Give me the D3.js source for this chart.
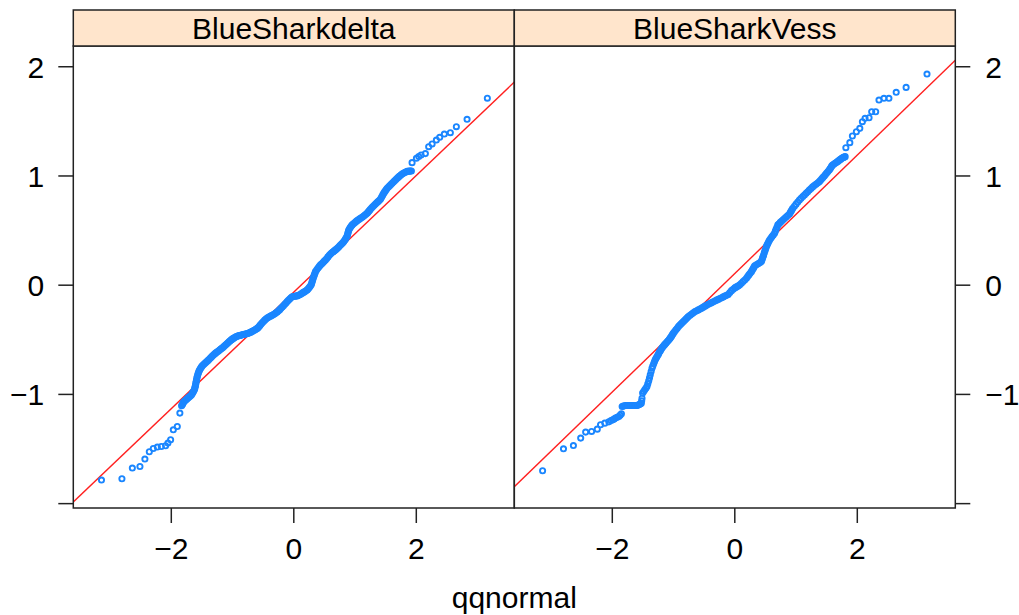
<!doctype html>
<html>
<head>
	<meta charset="utf-8">
	<title>qqmath</title>
	<style>
		body {
			margin: 0;
			background: #fff;
		}

		text {
			font-family: "Liberation Sans", Arial, sans-serif;
			fill: #000;
		}

		.frame {
			fill: none;
			stroke: #222;
			stroke-width: 1.5;
		}

		.strip {
			fill: #ffe5cc;
			stroke: #222;
			stroke-width: 1.5;
		}

		.tick {
			stroke: #222;
			stroke-width: 1.5;
		}

		.qq-point {
			fill: none;
			stroke: #1a86ff;
			stroke-width: 1.9;
		}

		.qq-line {
			stroke: #ff2020;
			stroke-width: 1.4;
		}
	</style>
</head>
<body>

	<svg width="1019" height="615"></svg>

	<script src="https://d3js.org/d3.v7.min.js"></script>
	<script>

		// panel names
		const panelNames = [ "BlueSharkdelta", "BlueSharkVess" ];

		// theoretical quantiles / sample values (tails and band)
		const deltaTheo = [ -3.14, -2.806, -2.636, -2.512, -2.431, -2.359, -2.294, -2.228, -2.163, -2.093, -2.055, -2.011, -1.967, -1.902, -1.86,
			-1.832, -1.812, -1.794, -1.76, -1.729, -1.7, -1.669, -1.645, -1.62, -1.608, -1.599, -1.588, -1.576, -1.56, -1.543, -1.52, -1.494, -1.46,
			-1.424, -1.385, -1.347, -1.312, -1.277, -1.242, -1.207, -1.175, -1.142, -1.106, -1.07, -1.038, -1.005, -0.97, -0.935, -0.896, -0.858,
			-0.823, -0.788, -0.753, -0.718, -0.685, -0.653, -0.62, -0.587, -0.552, -0.516, -0.475, -0.434, -0.393, -0.352, -0.311, -0.271, -0.23,
			-0.189, -0.148, -0.108, -0.067, -0.026, 0.015, 0.055, 0.096, 0.137, 0.178, 0.219, 0.252, 0.284, 0.3, 0.316, 0.335, 0.354, 0.395, 0.436,
			0.477, 0.517, 0.558, 0.599, 0.64, 0.68, 0.715, 0.75, 0.783, 0.816, 0.845, 0.871, 0.884, 0.897, 0.925, 0.953, 0.994, 1.034, 1.075, 1.116,
			1.157, 1.197, 1.224, 1.251, 1.292, 1.333, 1.374, 1.414, 1.441, 1.468, 1.496, 1.524, 1.565, 1.605, 1.646, 1.687, 1.728, 1.768, 1.81, 1.85,
			1.885, 1.92, 1.931, 2.002, 2.04, 2.078, 2.148, 2.202, 2.258, 2.328, 2.382, 2.458, 2.556, 2.654, 2.829, 3.16,
			-1.822, -1.803, -1.777, -1.745, -1.715, -1.685, -1.657, -1.632, -1.614, -1.603, -1.593, -1.582, -1.568, -1.551, -1.531, -1.507, -1.477,
			-1.442, -1.404, -1.366, -1.33, -1.295, -1.26, -1.225, -1.191, -1.158, -1.124, -1.088, -1.054, -1.022, -0.988, -0.953, -0.916, -0.877,
			-0.84, -0.806, -0.771, -0.736, -0.702, -0.669, -0.637, -0.604, -0.57, -0.534, -0.496, -0.455, -0.414, -0.373, -0.332, -0.291, -0.25,
			-0.21, -0.169, -0.128, -0.088, -0.047, -0.006, 0.035, 0.076, 0.117, 0.158, 0.199, 0.236, 0.268, 0.292, 0.308, 0.326, 0.345, 0.375, 0.416,
			0.457, 0.497, 0.538, 0.579, 0.62, 0.66, 0.698, 0.733, 0.767, 0.8, 0.831, 0.858, 0.878, 0.891, 0.911, 0.939, 0.974, 1.014, 1.055, 1.096,
			1.137, 1.177, 1.211, 1.238, 1.272, 1.313, 1.354, 1.394, 1.428, 1.455, 1.482, 1.51, 1.545, 1.585, 1.626, 1.667, 1.708, 1.748, 1.789, 1.83,
			1.868, 1.903 ];
		const deltaSample = [ -1.784, -1.772, -1.674, -1.66, -1.592, -1.525, -1.495, -1.482, -1.477, -1.47, -1.446, -1.415, -1.324, -1.294, -1.171,
			-1.104, -1.085, -1.065, -1.05, -1.034, -1.02, -1.004, -0.98, -0.952, -0.925, -0.897, -0.866, -0.836, -0.806, -0.781, -0.758, -0.738, -0.72,
			-0.702, -0.68, -0.659, -0.64, -0.622, -0.607, -0.592, -0.578, -0.562, -0.543, -0.525, -0.508, -0.494, -0.481, -0.47, -0.462, -0.457,
			-0.452, -0.448, -0.442, -0.434, -0.425, -0.415, -0.404, -0.391, -0.368, -0.344, -0.32, -0.3, -0.287, -0.275, -0.261, -0.245, -0.224,
			-0.2, -0.175, -0.15, -0.126, -0.106, -0.101, -0.098, -0.087, -0.073, -0.059, -0.043, -0.022, 0.003, 0.033, 0.064, 0.094, 0.124, 0.157, 0.186,
			0.208, 0.231, 0.259, 0.286, 0.305, 0.323, 0.341, 0.36, 0.379, 0.399, 0.424, 0.451, 0.478, 0.506, 0.53, 0.552, 0.572, 0.591, 0.607, 0.622,
			0.64, 0.659, 0.677, 0.695, 0.72, 0.744, 0.765, 0.787, 0.815, 0.842, 0.865, 0.887, 0.91, 0.933, 0.956, 0.979, 0.999, 1.018, 1.032, 1.042,
			1.044, 1.046, 1.122, 1.162, 1.178, 1.192, 1.205, 1.268, 1.293, 1.329, 1.354, 1.384, 1.396, 1.451, 1.519, 1.712,
			-1.095, -1.075, -1.058, -1.042, -1.027, -1.012, -0.992, -0.966, -0.938, -0.911, -0.881, -0.851, -0.821, -0.793, -0.769, -0.748, -0.729,
			-0.711, -0.691, -0.669, -0.649, -0.631, -0.614, -0.6, -0.585, -0.57, -0.552, -0.534, -0.516, -0.501, -0.487, -0.475, -0.466, -0.46,
			-0.454, -0.45, -0.445, -0.438, -0.43, -0.42, -0.41, -0.398, -0.38, -0.356, -0.332, -0.31, -0.294, -0.281, -0.268, -0.253, -0.235,
			-0.212, -0.188, -0.163, -0.138, -0.116, -0.103, -0.1, -0.093, -0.08, -0.066, -0.051, -0.033, -0.01, 0.018, 0.048, 0.079, 0.109, 0.141, 0.172,
			0.197, 0.22, 0.245, 0.273, 0.296, 0.314, 0.332, 0.35, 0.37, 0.389, 0.411, 0.437, 0.464, 0.492, 0.518, 0.541, 0.562, 0.582, 0.599, 0.615,
			0.631, 0.65, 0.668, 0.686, 0.708, 0.732, 0.755, 0.776, 0.801, 0.829, 0.854, 0.876, 0.899, 0.922, 0.945, 0.968, 0.989, 1.009, 1.025, 1.037,
			1.043, 1.045 ];

		const vessTheo = [ -3.138, -2.797, -2.635, -2.516, -2.435, -2.338, -2.245, -2.192, -2.122, -2.057, -2.02, -1.992, -1.97, -1.948, -1.92, -1.894,
			-1.872, -1.851, -1.839, -1.8, -1.758, -1.718, -1.677, -1.637, -1.596, -1.56, -1.526, -1.515, -1.505, -1.47, -1.434, -1.405, -1.38, -1.366,
			-1.352, -1.325, -1.299, -1.272, -1.245, -1.218, -1.19, -1.158, -1.125, -1.09, -1.055, -1.028, -1.002, -0.961, -0.92, -0.88, -0.839, -0.798,
			-0.758, -0.704, -0.649, -0.595, -0.541, -0.487, -0.433, -0.379, -0.325, -0.27, -0.216, -0.162, -0.108, -0.054, 0, 0.04, 0.081, 0.135, 0.19,
			0.23, 0.271, 0.298, 0.325, 0.38, 0.433, 0.452, 0.471, 0.493, 0.515, 0.541, 0.568, 0.608, 0.649, 0.676, 0.703, 0.743, 0.784, 0.838, 0.893,
			0.92, 0.946, 1.0, 1.055, 1.11, 1.164, 1.217, 1.271, 1.325, 1.38, 1.42, 1.461, 1.5, 1.542, 1.569, 1.596, 1.636, 1.677, 1.712, 1.748, 1.775,
			1.802, 1.813, 1.878, 1.92, 1.985, 2.041, 2.083, 2.127, 2.192, 2.235, 2.3, 2.354, 2.435, 2.516, 2.635, 2.797, 3.138,
			-1.82, -1.779, -1.738, -1.697, -1.657, -1.616, -1.578, -1.543, -1.52, -1.488, -1.452, -1.42, -1.392, -1.339, -1.312, -1.286, -1.258, -1.232,
			-1.204, -1.174, -1.142, -1.108, -1.072, -1.042, -1.015, -0.982, -0.94, -0.9, -0.86, -0.818, -0.778, -0.731, -0.677, -0.622, -0.568, -0.514,
			-0.46, -0.406, -0.352, -0.298, -0.243, -0.189, -0.135, -0.081, -0.027, 0.02, 0.06, 0.108, 0.162, 0.21, 0.25, 0.284, 0.311, 0.352, 0.406,
			0.442, 0.462, 0.482, 0.504, 0.528, 0.554, 0.588, 0.628, 0.662, 0.69, 0.723, 0.763, 0.811, 0.865, 0.906, 0.933, 0.973, 1.028, 1.082, 1.137,
			1.19, 1.244, 1.298, 1.352, 1.4, 1.44, 1.48, 1.521, 1.555, 1.582, 1.616, 1.656, 1.694, 1.73, 1.761, 1.788 ];
		const vessSample = [ -1.699, -1.498, -1.468, -1.4, -1.345, -1.339, -1.318, -1.278, -1.263, -1.251, -1.24, -1.232, -1.225, -1.217, -1.21, -1.202,
			-1.19, -1.177, -1.111, -1.104, -1.101, -1.101, -1.101, -1.101, -1.101, -1.093, -1.08, -1.035, -0.988, -0.958, -0.928, -0.875, -0.821, -0.79,
			-0.76, -0.72, -0.683, -0.655, -0.629, -0.602, -0.576, -0.553, -0.531, -0.508, -0.485, -0.462, -0.439, -0.409, -0.379, -0.356, -0.333, -0.31,
			-0.287, -0.264, -0.242, -0.226, -0.21, -0.192, -0.175, -0.16, -0.145, -0.13, -0.115, -0.1, -0.085, -0.05, -0.025, -0.012, 0.003, 0.033, 0.064,
			0.094, 0.124, 0.15, 0.177, 0.196, 0.216, 0.246, 0.277, 0.315, 0.353, 0.384, 0.414, 0.445, 0.476, 0.514, 0.552, 0.575, 0.597, 0.625, 0.652,
			0.678, 0.704, 0.742, 0.78, 0.811, 0.842, 0.871, 0.9, 0.924, 0.948, 0.974, 1.0, 1.027, 1.055, 1.078, 1.101, 1.116, 1.131, 1.147, 1.162, 1.17,
			1.177, 1.259, 1.305, 1.366, 1.405, 1.436, 1.497, 1.528, 1.533, 1.588, 1.588, 1.695, 1.711, 1.711, 1.766, 1.811, 1.933,
			-1.107, -1.102, -1.101, -1.101, -1.101, -1.101, -1.098, -1.087, -1.058, -0.973, -0.943, -0.902, -0.848, -0.74, -0.701, -0.669, -0.642, -0.615,
			-0.589, -0.564, -0.542, -0.52, -0.497, -0.474, -0.45, -0.424, -0.394, -0.367, -0.345, -0.321, -0.298, -0.275, -0.253, -0.234, -0.218, -0.201,
			-0.184, -0.168, -0.152, -0.137, -0.122, -0.107, -0.093, -0.068, -0.037, -0.018, -0.005, 0.018, 0.048, 0.079, 0.109, 0.137, 0.163, 0.187, 0.206,
			0.231, 0.262, 0.296, 0.334, 0.369, 0.399, 0.43, 0.46, 0.495, 0.533, 0.563, 0.586, 0.611, 0.638, 0.665, 0.691, 0.723, 0.761, 0.795, 0.826,
			0.856, 0.885, 0.912, 0.936, 0.961, 0.987, 1.013, 1.041, 1.066, 1.09, 1.108, 1.123, 1.139, 1.154, 1.166, 1.173 ];

		// reference lines (qqmathline)
		const lineIntercept = [ -0.063, 0.107 ];
		const lineSlope = [ 0.534, 0.5423 ];

		const xTicks = [ -2, 0, 2 ];
		const yTicks = [ -2, -1, 0, 1, 2 ];
		const yTickLabels = [ "", "\u22121", "0", "1", "2" ];
		const xTickLabels = [ "\u22122", "0", "2" ];

		const svg = d3.select( "svg" );

		const left = 73.3,
			panelW = 441,
			stripTop = 10,
			stripH = 36,
			panelTop = stripTop + stripH,
			panelBottom = 508;

		const x = d3.scaleLinear()
				.domain( [ -3.6, 3.6 ] )
				.range( [ 0, panelW ] );

		const y = d3.scaleLinear()
				.domain( [ -2.04, 2.19 ] )
				.range( [ panelBottom, panelTop ] );

		const panels = [
			{ name: panelNames[0], theo: deltaTheo, sample: deltaSample, a: lineIntercept[0], b: lineSlope[0] },
			{ name: panelNames[1], theo: vessTheo, sample: vessSample, a: lineIntercept[1], b: lineSlope[1] }
		];

		const defs = svg.append( "defs" );

		panels.forEach( ( p, i ) => {

			const x0 = left + i * panelW;
			const g = svg.append( "g" )
						.attr( "transform", "translate(" + x0 + ",0)" );

			defs.append( "clipPath" )
				.attr( "id", "clip" + i )
				.append( "rect" )
					.attr( "x", 0 )
					.attr( "y", panelTop )
					.attr( "width", panelW )
					.attr( "height", panelBottom - panelTop );

			const inner = g.append( "g" )
							.attr( "clip-path", "url(#clip" + i + ")" );

			// reference line
			const dom = x.domain();
			inner.append( "line" )
				.attr( "class", "qq-line" )
				.attr( "x1", x( dom[0] ) )
				.attr( "y1", y( p.a + p.b * dom[0] ) )
				.attr( "x2", x( dom[1] ) )
				.attr( "y2", y( p.a + p.b * dom[1] ) );

			// points
			inner.selectAll( ".qq-point" )
				.data( d3.zip( p.theo, p.sample ) )
				.enter().append( "circle" )
					.attr( "class", "qq-point" )
					.attr( "r", 2.6 )
					.attr( "cx", d => x( d[0] ) )
					.attr( "cy", d => y( d[1] ) );

			// panel frame
			g.append( "rect" )
				.attr( "class", "frame" )
				.attr( "x", 0 )
				.attr( "y", panelTop )
				.attr( "width", panelW )
				.attr( "height", panelBottom - panelTop );

			// strip
			g.append( "rect" )
				.attr( "class", "strip" )
				.attr( "x", 0 )
				.attr( "y", stripTop )
				.attr( "width", panelW )
				.attr( "height", stripH );

			g.append( "text" )
				.attr( "x", panelW / 2 )
				.attr( "y", stripTop + 29 )
				.attr( "text-anchor", "middle" )
				.style( "font-size", "30px" )
				.text( p.name );

			// bottom ticks
			g.selectAll( ".xtick" )
				.data( xTicks )
				.enter().append( "line" )
					.attr( "class", "tick" )
					.attr( "x1", d => x( d ) )
					.attr( "x2", d => x( d ) )
					.attr( "y1", panelBottom )
					.attr( "y2", panelBottom + 15 );

			g.selectAll( ".xlab" )
				.data( xTicks )
				.enter().append( "text" )
					.attr( "x", d => x( d ) )
					.attr( "y", panelBottom + 51 )
					.attr( "text-anchor", "middle" )
					.style( "font-size", "30px" )
					.text( ( d, j ) => xTickLabels[ j ] );
		});

		// y axis, left and right
		const right = left + 2 * panelW;

		[ { x: left, dir: -1, anchor: "end", off: -29 }, { x: right, dir: 1, anchor: "start", off: 30 } ].forEach( side => {

			svg.selectAll( null )
				.data( yTicks )
				.enter().append( "line" )
					.attr( "class", "tick" )
					.attr( "x1", side.x )
					.attr( "x2", side.x + side.dir * 15 )
					.attr( "y1", d => y( d ) )
					.attr( "y2", d => y( d ) );

			svg.selectAll( null )
				.data( yTicks )
				.enter().append( "text" )
					.attr( "x", side.x + side.off )
					.attr( "y", d => y( d ) )
					.attr( "dy", "0.36em" )
					.attr( "text-anchor", side.anchor )
					.style( "font-size", "30px" )
					.text( ( d, j ) => yTickLabels[ j ] );
		});

		// x axis title
		svg.append( "text" )
			.attr( "x", left + panelW )
			.attr( "y", 608 )
			.attr( "text-anchor", "middle" )
			.style( "font-size", "30px" )
			.text( "qqnormal" );

	</script>

</body>
</html>
